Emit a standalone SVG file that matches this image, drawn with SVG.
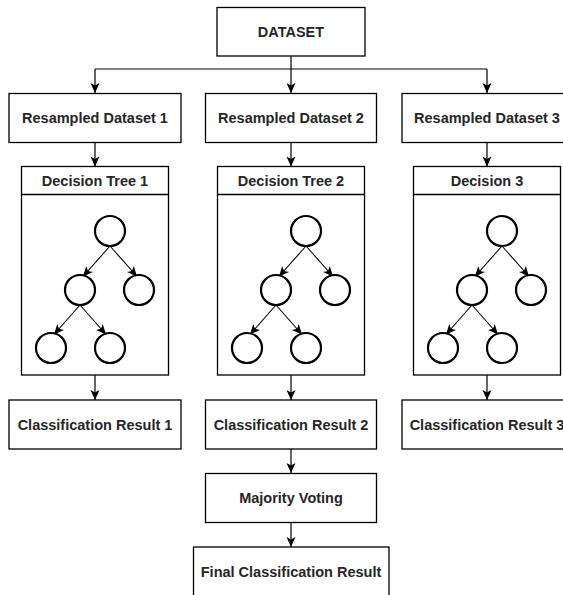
<svg xmlns="http://www.w3.org/2000/svg" width="563" height="595" viewBox="0 0 563 595">
<style>
.box{fill:#fff;stroke:#000;stroke-width:1.3}
.lbl{font-family:"Liberation Sans",Arial,sans-serif;font-size:14.5px;font-weight:bold;fill:#262626;text-anchor:middle}
.conn{fill:none;stroke:#000;stroke-width:1.2}
.tedge{fill:none;stroke:#000;stroke-width:1.1}
.circ{fill:#fff;stroke:#000;stroke-width:2.2}
</style>
<defs>
<marker id="arr" markerUnits="userSpaceOnUse" markerWidth="12" markerHeight="12" viewBox="0 0 12 12" refX="10.5" refY="6" orient="auto">
<path d="M0.5,1.5 L10.5,6 L0.5,10.5 L3,6 Z" fill="#000"/>
</marker>
<g id="tree">
<line class="tedge" x1="88.5" y1="246" x2="61.5" y2="276.5" marker-end="url(#arr)"/>
<line class="tedge" x1="88.5" y1="246" x2="115.5" y2="276.5" marker-end="url(#arr)"/>
<line class="tedge" x1="58.5" y1="305" x2="32.5" y2="334.5" marker-end="url(#arr)"/>
<line class="tedge" x1="58.5" y1="305" x2="84.5" y2="334.5" marker-end="url(#arr)"/>
<circle class="circ" cx="88.5" cy="231" r="15"/>
<circle class="circ" cx="58.5" cy="290" r="15"/>
<circle class="circ" cx="117.5" cy="290" r="15"/>
<circle class="circ" cx="29.5" cy="348" r="15"/>
<circle class="circ" cx="88.5" cy="348" r="15"/>
</g>
</defs>

<g id="connectors">
<path class="conn" d="M291,56 V69"/>
<path class="conn" d="M95,69 H487"/>
<path class="conn" d="M95,69 V93" marker-end="url(#arr)"/>
<path class="conn" d="M291,69 V93" marker-end="url(#arr)"/>
<path class="conn" d="M487,69 V93" marker-end="url(#arr)"/>
<path class="conn" d="M95,142.5 V166.5" marker-end="url(#arr)"/>
<path class="conn" d="M291,142.5 V166.5" marker-end="url(#arr)"/>
<path class="conn" d="M487,142.5 V166.5" marker-end="url(#arr)"/>
<path class="conn" d="M95,375 V400" marker-end="url(#arr)"/>
<path class="conn" d="M291,375 V400" marker-end="url(#arr)"/>
<path class="conn" d="M487,375 V400" marker-end="url(#arr)"/>
<path class="conn" d="M291,449 V473" marker-end="url(#arr)"/>
<path class="conn" d="M291,522.5 V547" marker-end="url(#arr)"/>
</g>

<g id="dataset">
<rect class="box" x="217" y="7.5" width="148" height="48.5"/>
<text class="lbl" x="291" y="36.5">DATASET</text>
</g>

<g id="resampled1">
<rect class="box" x="9" y="93.5" width="172" height="49"/>
<text class="lbl" x="95" y="123">Resampled Dataset 1</text>
</g>
<g id="resampled2">
<rect class="box" x="205.5" y="93.5" width="171" height="49"/>
<text class="lbl" x="291" y="123">Resampled Dataset 2</text>
</g>
<g id="resampled3">
<rect class="box" x="402" y="93.5" width="172" height="49"/>
<text class="lbl" x="487" y="123">Resampled Dataset 3</text>
</g>

<g id="tree1">
<rect class="box" x="21.5" y="166.5" width="147" height="208.5"/>
<line class="box" x1="21.5" y1="194.5" x2="168.5" y2="194.5"/>
<text class="lbl" x="95" y="186">Decision Tree 1</text>
<use href="#tree" x="21.5" y="0"/>
</g>
<g id="tree2">
<rect class="box" x="217.5" y="166.5" width="147" height="208.5"/>
<line class="box" x1="217.5" y1="194.5" x2="364.5" y2="194.5"/>
<text class="lbl" x="291" y="186">Decision Tree 2</text>
<use href="#tree" x="217.5" y="0"/>
</g>
<g id="tree3">
<rect class="box" x="413.5" y="166.5" width="147" height="208.5"/>
<line class="box" x1="413.5" y1="194.5" x2="560.5" y2="194.5"/>
<text class="lbl" x="487" y="186">Decision 3</text>
<use href="#tree" x="413.5" y="0"/>
</g>

<g id="result1">
<rect class="box" x="9" y="400" width="172" height="49"/>
<text class="lbl" x="95" y="429.5">Classification Result 1</text>
</g>
<g id="result2">
<rect class="box" x="205.5" y="400" width="171" height="49"/>
<text class="lbl" x="291" y="429.5">Classification Result 2</text>
</g>
<g id="result3">
<rect class="box" x="402" y="400" width="172" height="49"/>
<text class="lbl" x="487" y="429.5">Classification Result 3</text>
</g>

<g id="majority">
<rect class="box" x="205.5" y="473.5" width="171" height="49"/>
<text class="lbl" x="291" y="503">Majority Voting</text>
</g>

<g id="final">
<rect class="box" x="193.5" y="547" width="195.5" height="60"/>
<text class="lbl" x="291" y="577">Final Classification Result</text>
</g>
</svg>
